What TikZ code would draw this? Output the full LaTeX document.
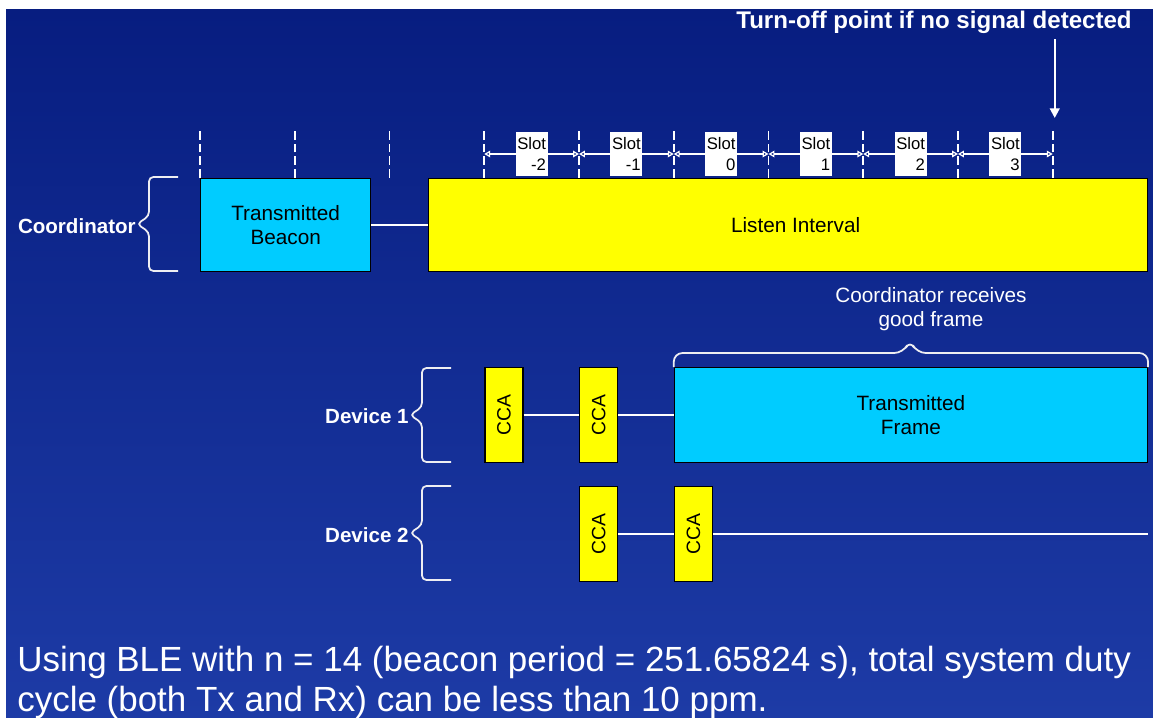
\documentclass[tikz,border=0pt]{standalone}
\usepackage{graphicx}
\usepackage{fontspec}
\setmainfont{Liberation Sans}
\usetikzlibrary{positioning, calc, arrows.meta}
\definecolor{BgDark}{HTML}{071D80}
\definecolor{BgLight}{HTML}{1D3BA6}
\definecolor{Cyan}{HTML}{00CCFF}
\definecolor{Yellow}{HTML}{FFFF00}
\definecolor{Pen}{HTML}{EEEEF2}
\tikzset{
    cyanbox/.style={rectangle, draw=black, line width=0.8pt, fill=Cyan, text=black, align=center, font=\fontsize{11.8}{13.6}\selectfont},
    yellowbox/.style={cyanbox, fill=Yellow},
    ccabox/.style={yellowbox, minimum width=0.76cm, minimum height=1.9cm, inner sep=0pt, font=\fontsize{11}{12}\selectfont},
    slotbox/.style={rectangle, fill=white, text=black, align=right, inner sep=0.5pt, minimum width=0.64cm, minimum height=0.88cm, font=\fontsize{9.5}{12}\selectfont},
    link/.style={draw=white, line width=0.9pt},
    tickline/.style={draw=white, line width=1.1pt, dash pattern=on 5pt off 2.3pt},
    dimline/.style={draw=white, line width=0.7pt, {Triangle[open,length=3.4pt,width=3.8pt]}-{Triangle[open,length=3.4pt,width=3.8pt]}},
    pointer/.style={draw=white, line width=1.2pt, -{Triangle[length=5.5pt,width=5.5pt]}},
    bracepen/.style={draw=Pen, line width=1pt, rounded corners=2.5pt},
    rowlabel/.style={text=white, font=\bfseries\fontsize{11.7}{13}\selectfont, inner sep=0pt, anchor=east},
    note/.style={text=white, align=center, inner sep=1pt, font=\fontsize{11.8}{13.6}\selectfont},
    lbrace/.pic={\draw[bracepen] (41,-47) -- (12,-47) -- (12,-8) -- (0,0) -- (12,8) -- (12,47) -- (41,47);},
}

\begin{document}
\begin{tikzpicture}[x=0.02cm, y=-0.02cm]
    % --- Canvas ---
    \useasboundingbox (0,0) rectangle (1153,717);
    \fill[white] (0,0) rectangle (1153,717);
    \shade[top color=BgDark, bottom color=BgLight] (6,9) rectangle (1153,717);

    % --- Time grid ---
    \foreach \i in {0,...,9} {
        \coordinate (t\i) at ({200+94.75*\i},178);
        \coordinate (m\i) at ({200+94.75*\i},154);
        \draw[tickline] (t\i) -- ++(0,-49);
    }
    \coordinate (rowA) at (0,367);
    \coordinate (rowB) at (0,486);

    % Slots
    \foreach \i/\s in {3/-2,4/-1,5/0,6/1,7/2,8/3} {
        \pgfmathtruncatemacro\j{\i+1}
        \draw[dimline] (m\i) -- (m\j);
        \node[slotbox] (slot\i) at ($(m\i)!0.5!(m\j)$) {Slot\\\s};
    }

    % Turn-off marker
    \node[note, font=\bfseries\fontsize{13.7}{15}\selectfont] (turnoff) at (934,22) {Turn-off point if no signal detected};
    \coordinate (offpt) at ($(t9)+(2,-60)$);
    \draw[pointer] ($(turnoff.south -| offpt)+(0,4)$) -- (offpt);

    % --- Coordinator row ---
    \node[cyanbox, minimum width=3.4cm, minimum height=1.86cm, anchor=north west] (beacon) at (t0) {Transmitted\\Beacon};
    \node[yellowbox, minimum width=14.38cm, minimum height=1.86cm, anchor=north west] (listen) at (428,178) {\hspace{0.3cm}Listen Interval};
    \draw[link] (beacon) -- (listen);
    \pic at (137,224) {lbrace};
    \node[rowlabel] (coordlbl) at (136,226) {Coordinator};

    % --- Device 1 ---
    \node[ccabox, anchor=north west] (ccaA) at (t3 |- rowA) {\rotatebox{90}{CCA}};
    \node[ccabox, anchor=north west] (ccaB) at (t4 |- rowA) {\rotatebox{90}{CCA}};
    \node[cyanbox, minimum width=9.46cm, minimum height=1.9cm, anchor=north west] (frame) at (t5 |- rowA) {Transmitted\\Frame};
    \draw[link] (ccaA) -- (ccaB) (ccaB) -- (frame);
    \pic at (410,415) {lbrace};
    \node[rowlabel] (dev1lbl) at (409,416) {Device 1};

    % good frame brace
    \coordinate (gfTip) at (910,340);
    \draw[bracepen, rounded corners=5pt] (frame.north west) |- ($(gfTip)+(-7,13)$) -- (gfTip) -- ($(gfTip)+(7,13)$) -| (frame.north east);
    \node[note] (gflbl) at (931,309) {Coordinator receives\\good frame};

    % --- Device 2 ---
    \node[ccabox, anchor=north west] (ccaC) at (t4 |- rowB) {\rotatebox{90}{CCA}};
    \node[ccabox, anchor=north west] (ccaD) at (t5 |- rowB) {\rotatebox{90}{CCA}};
    \coordinate (d2end) at (1148,533);
    \draw[link] (ccaC) -- (ccaD) (ccaD) -- (ccaD -| d2end);
    \pic at (410,533) {lbrace};
    \node[rowlabel] (dev2lbl) at (409,535) {Device 2};

    % --- Summary ---
    \node[anchor=north west, align=left, text=white, inner sep=0pt, font=\fontsize{19.9}{22.4}\selectfont] (summary) at (17,646) {Using BLE with n = 14 (beacon period = 251.65824 s), total system duty\\cycle (both Tx and Rx) can be less than 10 ppm.};
\end{tikzpicture}
\end{document}
